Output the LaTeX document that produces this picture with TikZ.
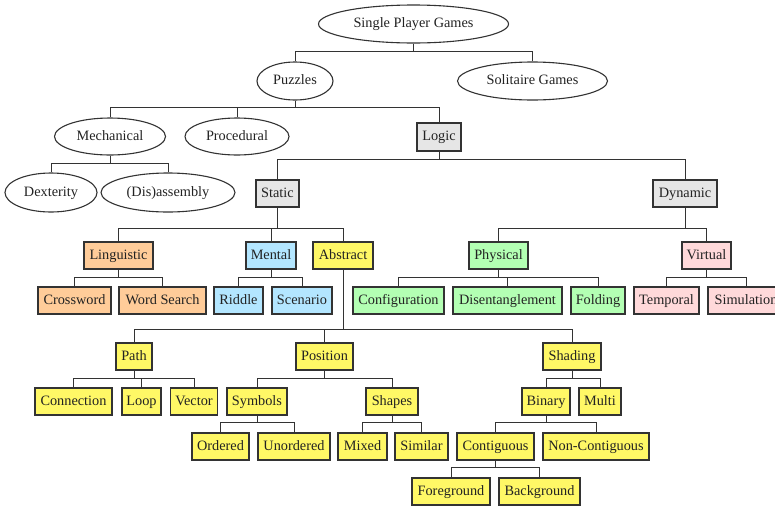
\documentclass[tikz,border=0pt]{standalone}
\usepackage{fontspec}
\setmainfont{Liberation Serif}
\usetikzlibrary{shapes.geometric}
\definecolor{linec}{HTML}{333333}
\definecolor{textc}{HTML}{222222}
\definecolor{fgray}{HTML}{E6E6E6}
\definecolor{forange}{HTML}{FFCC99}
\definecolor{fblue}{HTML}{B3E6FF}
\definecolor{fyellow}{HTML}{FFF866}
\definecolor{fgreen}{HTML}{B3FFB3}
\definecolor{fpink}{HTML}{FFD9DA}
\tikzset{
  base/.style={draw=linec, line width=1.1pt, text=textc, font=\fontsize{14.3}{16}\selectfont, inner sep=0pt, minimum height=27pt, text height=10pt, text depth=3pt},
  ell/.style={base, ellipse, fill=white},
  bx/.style={base, rectangle},
  gbox/.style={bx, fill=fgray},
  obox/.style={bx, fill=forange},
  bbox/.style={bx, fill=fblue},
  ybox/.style={bx, fill=fyellow},
  grbox/.style={bx, fill=fgreen},
  pbox/.style={bx, fill=fpink},
  edge/.style={draw=linec, line width=1pt},
}
\newcommand\tedge[3]{\draw[edge] (#1.south) -- (#1.south |- #3) -| (#2.north);}
\begin{document}
\begin{tikzpicture}[x=1pt,y=-1pt]
\useasboundingbox (0,0) rectangle (775,509);
\clip (0,0) rectangle (775,509);
% ellipses
\node[ell, minimum width=190, minimum height=38] (Single) at (413.5,24) {Single Player Games};
\node[ell, minimum width=76, minimum height=38] (Puzzles) at (295,81) {Puzzles};
\node[ell, minimum width=150, minimum height=38] (Solitaire) at (532.5,81) {Solitaire Games};
\node[ell, minimum width=111, minimum height=37] (Mech) at (110,136.5) {Mechanical};
\node[ell, minimum width=104, minimum height=37] (Proc) at (237,136.5) {Procedural};
\node[ell, minimum width=92, minimum height=39] (Dext) at (51,192.5) {Dexterity};
\node[ell, minimum width=134, minimum height=39] (Dis) at (168,192.5) {(Dis)assembly};
% gray boxes
\node[gbox, minimum width=44, minimum height=28] (Logic) at (439,137) {Logic};
\node[gbox, minimum width=43] (Static) at (277.5,193.5) {Static};
\node[gbox, minimum width=64] (Dynamic) at (685,193.5) {Dynamic};
% static children
\node[obox, minimum width=69] (Ling) at (118.5,255.5) {Linguistic};
\node[bbox, minimum width=50] (Mental) at (271,255.5) {Mental};
\node[ybox, minimum width=60] (Abstract) at (343,255.5) {Abstract};
\node[obox, minimum width=73] (Cross) at (74.5,300.5) {Crossword};
\node[obox, minimum width=87] (WordS) at (162.5,300.5) {Word Search};
\node[bbox, minimum width=49] (Riddle) at (238.5,300.5) {Riddle};
\node[bbox, minimum width=60] (Scen) at (302,300.5) {Scenario};
% dynamic children
\node[grbox, minimum width=59] (Phys) at (498.5,255.5) {Physical};
\node[pbox, minimum width=49] (Virt) at (706.5,255.5) {Virtual};
\node[grbox, minimum width=91] (Config) at (398.5,300.5) {Configuration};
\node[grbox, minimum width=109] (Disent) at (507.5,300.5) {Disentanglement};
\node[grbox, minimum width=54] (Fold) at (598,300.5) {Folding};
\node[pbox, minimum width=65] (Temp) at (666.5,300.5) {Temporal};
\node[pbox, minimum width=76] (Sim) at (746,300.5) {Simulation};
% abstract subtree
\node[ybox, minimum width=36] (Path) at (134,356.5) {Path};
\node[ybox, minimum width=57] (Pos) at (324.5,356.5) {Position};
\node[ybox, minimum width=58] (Shading) at (572,356.5) {Shading};
\node[ybox, minimum width=77] (Conn) at (73.5,401.5) {Connection};
\node[ybox, minimum width=39] (Loop) at (141.5,401.5) {Loop};
\node[ybox, minimum width=47] (Vector) at (194,401.5) {Vector};
\node[ybox, minimum width=60] (Symbols) at (257,401.5) {Symbols};
\node[ybox, minimum width=52] (Shapes) at (392,401.5) {Shapes};
\node[ybox, minimum width=57] (Ordered) at (220.5,446.5) {Ordered};
\node[ybox, minimum width=72] (Unord) at (294,446.5) {Unordered};
\node[ybox, minimum width=49] (Mixed) at (362.5,446.5) {Mixed};
\node[ybox, minimum width=53] (Similar) at (421.5,446.5) {Similar};
\node[ybox, minimum width=48] (Binary) at (546,401.5) {Binary};
\node[ybox, minimum width=42] (Multi) at (600,401.5) {Multi};
\node[ybox, minimum width=77] (Contig) at (495.5,446.5) {Contiguous};
\node[ybox, minimum width=106] (NonContig) at (596,446.5) {Non-Contiguous};
\node[ybox, minimum width=78] (Fore) at (451,491.5) {Foreground};
\node[ybox, minimum width=81] (Back) at (539.5,491.5) {Background};
% bar levels
\coordinate (bSingle) at (0,51);
\coordinate (bPuzzles) at (0,107);
\coordinate (bMech) at (0,163);
\coordinate (bLogic) at (0,159);
\coordinate (bStatic) at (0,228);
\coordinate (bDynamic) at (0,228);
\coordinate (bLeaf) at (0,277);
\coordinate (bAbstract) at (0,329);
\coordinate (bThird) at (0,378);
\coordinate (bFourth) at (0,422);
\coordinate (bContig) at (0,467);
% edges
\tedge{Single}{Puzzles}{bSingle}
\tedge{Single}{Solitaire}{bSingle}
\tedge{Puzzles}{Mech}{bPuzzles}
\tedge{Puzzles}{Proc}{bPuzzles}
\tedge{Puzzles}{Logic}{bPuzzles}
\tedge{Mech}{Dext}{bMech}
\tedge{Mech}{Dis}{bMech}
\tedge{Logic}{Static}{bLogic}
\tedge{Logic}{Dynamic}{bLogic}
\tedge{Static}{Ling}{bStatic}
\tedge{Static}{Mental}{bStatic}
\tedge{Static}{Abstract}{bStatic}
\tedge{Dynamic}{Phys}{bDynamic}
\tedge{Dynamic}{Virt}{bDynamic}
\tedge{Ling}{Cross}{bLeaf}
\tedge{Ling}{WordS}{bLeaf}
\tedge{Mental}{Riddle}{bLeaf}
\tedge{Mental}{Scen}{bLeaf}
\tedge{Phys}{Config}{bLeaf}
\tedge{Phys}{Disent}{bLeaf}
\tedge{Phys}{Fold}{bLeaf}
\tedge{Virt}{Temp}{bLeaf}
\tedge{Virt}{Sim}{bLeaf}
\tedge{Abstract}{Path}{bAbstract}
\tedge{Abstract}{Pos}{bAbstract}
\tedge{Abstract}{Shading}{bAbstract}
\tedge{Path}{Conn}{bThird}
\tedge{Path}{Loop}{bThird}
\tedge{Path}{Vector}{bThird}
\tedge{Pos}{Symbols}{bThird}
\tedge{Pos}{Shapes}{bThird}
\tedge{Shading}{Binary}{bThird}
\tedge{Shading}{Multi}{bThird}
\tedge{Symbols}{Ordered}{bFourth}
\tedge{Symbols}{Unord}{bFourth}
\tedge{Shapes}{Mixed}{bFourth}
\tedge{Shapes}{Similar}{bFourth}
\tedge{Binary}{Contig}{bFourth}
\tedge{Binary}{NonContig}{bFourth}
\tedge{Contig}{Fore}{bContig}
\tedge{Contig}{Back}{bContig}
\end{tikzpicture}
\end{document}
